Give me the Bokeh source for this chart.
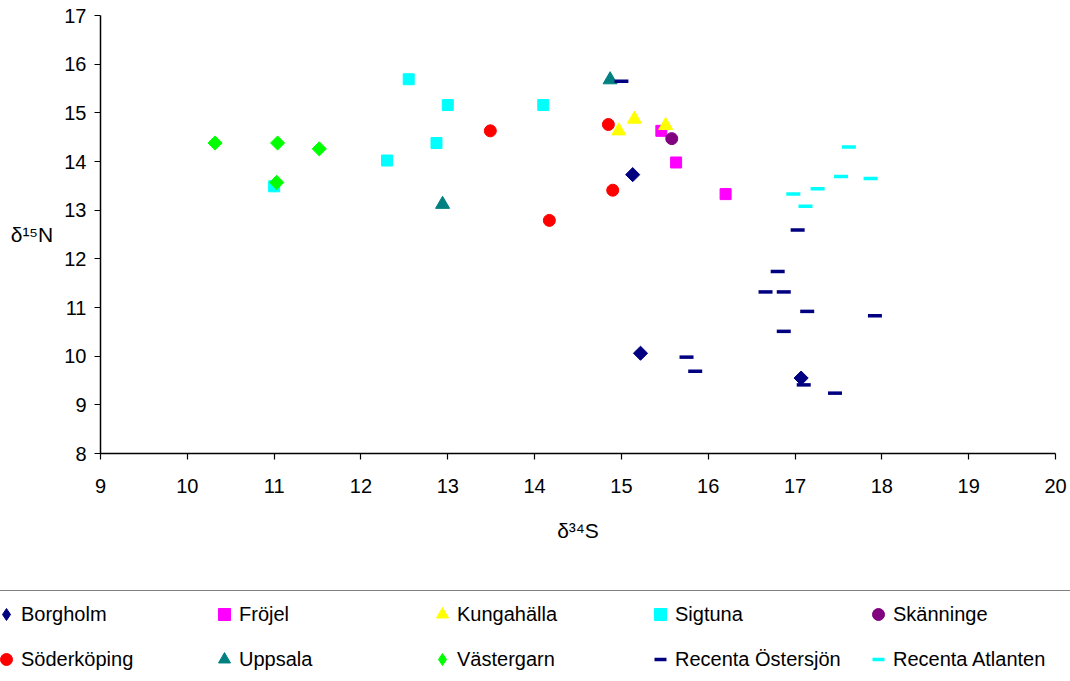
from bokeh.plotting import figure
from bokeh.models import Range1d, FixedTicker, Legend, LegendItem
from bokeh.embed import file_html
from bokeh.resources import INLINE

# ---- data ----
x_ticks = [9, 10, 11, 12, 13, 14, 15, 16, 17, 18, 19, 20]
y_ticks = [8, 9, 10, 11, 12, 13, 14, 15, 16, 17]

borgholm_x = [15.13, 15.22, 17.07]
borgholm_y = [13.73, 10.06, 9.55]

frojel_x = [15.46, 15.63, 16.20]
frojel_y = [14.63, 13.98, 13.33]

kungahalla_x = [15.15, 14.97, 15.51]
kungahalla_y = [14.87, 14.63, 14.74]

sigtuna_x = [11.00, 12.55, 13.00, 14.10, 12.87, 12.30]
sigtuna_y = [13.49, 15.69, 15.16, 15.16, 14.38, 14.02]

skanninge_x = [15.58]
skanninge_y = [14.47]

soderkoping_x = [13.49, 14.85, 14.90, 14.17]
soderkoping_y = [14.63, 14.76, 13.41, 12.79]

uppsala_x = [14.87, 12.94]
uppsala_y = [15.68, 13.12]

vastergarn_x = [10.32, 11.04, 11.52, 11.03]
vastergarn_y = [14.38, 14.38, 14.26, 13.57]

ostersjon_x = [15.00, 17.03, 16.80, 16.66, 16.87, 17.14, 17.92, 16.87, 15.75, 15.85, 17.10, 17.46]
ostersjon_y = [15.65, 12.59, 11.74, 11.32, 11.32, 10.92, 10.83, 10.51, 9.98, 9.69, 9.41, 9.24]

atlanten_x = [17.62, 17.53, 17.87, 17.26, 16.98, 17.12]
atlanten_y = [14.30, 13.69, 13.65, 13.44, 13.33, 13.08]

names = ["Borgholm", "Fröjel", "Kungahälla", "Sigtuna", "Skänninge",
         "Söderköping", "Uppsala", "Västergarn", "Recenta Östersjön", "Recenta Atlanten"]
colors = ["#000080", "#FF00FF", "#FFFF00", "#00FFFF", "#800080",
          "#FF0000", "#008080", "#00FF00", "#000080", "#00FFFF"]

FONT = "Liberation Sans"

# ---- layout: the frame covers the whole canvas; the axes sit at fixed data locations ----
W, H = 1070, 681
AX_L, AX_R, AX_T, AX_B = 100, 1055, 15, 453          # pixel box of the axes in the canvas
X0, X1, Y0, Y1 = 9, 20, 8, 17
sx = (AX_R - AX_L) / (X1 - X0)
sy = (AX_B - AX_T) / (Y1 - Y0)
x_range = Range1d(X0 - AX_L / sx, X1 + (W - AX_R) / sx)
y_range = Range1d(Y0 - (H - AX_B) / sy, Y1 + AX_T / sy)

p = figure(width=W, height=H,
           min_border_left=0, min_border_top=0, min_border_right=0, min_border_bottom=0,
           x_range=x_range, y_range=y_range,
           output_backend="svg", toolbar_location=None)
p.outline_line_color = None
p.xgrid.visible = False
p.ygrid.visible = False
p.background_fill_color = "white"
p.border_fill_color = "white"

for ax in (p.xaxis[0], p.yaxis[0]):
    ax.axis_line_color = "black"
    ax.axis_line_width = 1.5
    ax.major_tick_line_color = "black"
    ax.major_tick_line_width = 1.2
    ax.major_tick_out = 6
    ax.major_tick_in = 0
    ax.minor_tick_line_color = None
    ax.major_label_text_font = FONT
    ax.major_label_text_font_size = "20px"
    ax.major_label_text_color = "black"
    ax.axis_label_text_font = FONT
    ax.axis_label_text_font_size = "21px"
    ax.axis_label_text_font_style = "normal"
    ax.axis_label_text_color = "black"

p.xaxis.ticker = FixedTicker(ticks=x_ticks)
p.yaxis.ticker = FixedTicker(ticks=y_ticks)
p.xaxis.fixed_location = Y0
p.yaxis.fixed_location = X0
p.xaxis.bounds = (X0, X1)
p.yaxis.bounds = (Y0, Y1)
p.xaxis.major_label_standoff = 19
p.yaxis.major_label_standoff = 8
p.xaxis.axis_label = "δ³⁴S"
p.yaxis.axis_label = "δ¹⁵N"
p.yaxis.axis_label_orientation = "horizontal"
p.xaxis.axis_label_standoff = 23
p.yaxis.axis_label_standoff = 8

def rotated(xs, ys, color):
    # a square turned by 45 degrees: the diamond of the plot area
    return p.scatter(xs, ys, marker="square", angle=45, angle_units="deg", size=10,
                     fill_color=color, line_color=color)

def legend_diamond(xs, ys, color):
    # the same points as a diamond marker, only used for the legend swatch
    return p.scatter(xs, ys, marker="diamond", size=14, fill_color=color,
                     line_color=color, visible=False)

r_borg = rotated(borgholm_x, borgholm_y, colors[0])
r_frej = p.scatter(frojel_x, frojel_y, marker="square", size=11,
                   fill_color=colors[1], line_color=colors[1])
r_kung = p.scatter(kungahalla_x, kungahalla_y, marker="triangle", size=14,
                   fill_color=colors[2], line_color=colors[2])
r_sigt = p.scatter(sigtuna_x, sigtuna_y, marker="square", size=11,
                   fill_color=colors[3], line_color=colors[3])
r_skan = p.scatter(skanninge_x, skanninge_y, marker="circle", size=12,
                   fill_color=colors[4], line_color=colors[4])
r_sode = p.scatter(soderkoping_x, soderkoping_y, marker="circle", size=12,
                   fill_color=colors[5], line_color=colors[5])
r_upps = p.scatter(uppsala_x, uppsala_y, marker="triangle", size=14,
                   fill_color=colors[6], line_color=colors[6])
r_vast = rotated(vastergarn_x, vastergarn_y, colors[7])
r_oste = p.scatter(ostersjon_x, ostersjon_y, marker="dash", size=14,
                   line_color=colors[8], line_width=3.5)
r_atla = p.scatter(atlanten_x, atlanten_y, marker="dash", size=14,
                   line_color=colors[9], line_width=3.5)

lg_borg = legend_diamond(borgholm_x, borgholm_y, colors[0])
lg_vast = legend_diamond(vastergarn_x, vastergarn_y, colors[7])

legend_renderers = [lg_borg, r_frej, r_kung, r_sigt, r_skan,
                    r_sode, r_upps, lg_vast, r_oste, r_atla]

items = [LegendItem(label=n, renderers=[r]) for n, r in zip(names, legend_renderers)]
legend = Legend(items=items, orientation="horizontal", nrows=2,
                location=(-18, -2), margin=0, padding=8, spacing=15,
                glyph_width=30, glyph_height=30, label_standoff=0,
                label_width=173, label_height=30,
                label_text_font=FONT, label_text_font_size="20px", label_text_color="black",
                border_line_color="black", border_line_width=1.5,
                background_fill_color="white", background_fill_alpha=1.0,
                inactive_fill_alpha=0.0)
p.add_layout(legend, "center")

open("out.html", "w").write(file_html(p, INLINE))
